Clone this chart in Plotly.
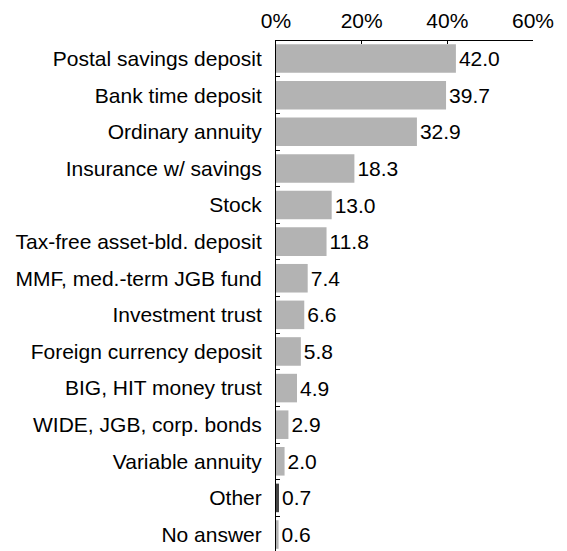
import plotly.graph_objects as go

categories = [
    "Postal savings deposit",
    "Bank time deposit",
    "Ordinary annuity",
    "Insurance w/ savings",
    "Stock",
    "Tax-free asset-bld. deposit",
    "MMF, med.-term JGB fund",
    "Investment trust",
    "Foreign currency deposit",
    "BIG, HIT money trust",
    "WIDE, JGB, corp. bonds",
    "Variable annuity",
    "Other",
    "No answer",
]
values = [42.0, 39.7, 32.9, 18.3, 13.0, 11.8, 7.4, 6.6, 5.8, 4.9, 2.9, 2.0, 0.7, 0.6]
x_ticks = [0, 20, 40, 60]

light = "#b3b3b3"
dark = "#454545"
bar_colors = [dark if c == "Other" else light for c in categories]

font_family = "Liberation Sans, Arial, sans-serif"
font_size = 21

fig = go.Figure(
    go.Bar(
        y=categories,
        x=values,
        orientation="h",
        marker=dict(color=bar_colors, line=dict(width=0)),
        text=[f"{v:.1f}" for v in values],
        textposition="outside",
        textfont=dict(size=font_size, color="#000000", family=font_family),
        cliponaxis=False,
    )
)

fig.update_layout(
    width=567,
    height=551,
    margin=dict(l=276, r=34, t=41, b=0),
    paper_bgcolor="white",
    plot_bgcolor="white",
    bargap=0.22,
    showlegend=False,
    uniformtext=dict(minsize=font_size, mode="show"),
    font=dict(family=font_family, size=font_size, color="#000000"),
)

fig.update_xaxes(
    side="top",
    range=[0, 60],
    tickvals=x_ticks,
    ticktext=[f"{t}%" for t in x_ticks],
    ticks="inside",
    ticklen=3,
    tickcolor="#000000",
    showline=True,
    linecolor="#000000",
    linewidth=1,
    showgrid=False,
    zeroline=False,
    tickfont=dict(size=font_size),
    ticklabelstandoff=4,
)

fig.update_yaxes(
    categoryorder="array",
    categoryarray=categories,
    range=[13.45, -0.48],
    tickson="boundaries",
    ticks="inside",
    ticklen=4,
    tickcolor="#000000",
    showline=True,
    linecolor="#000000",
    linewidth=1,
    showgrid=False,
    zeroline=False,
    tickfont=dict(size=font_size),
    ticklabelstandoff=9,
)

fig.write_html("out.html")
